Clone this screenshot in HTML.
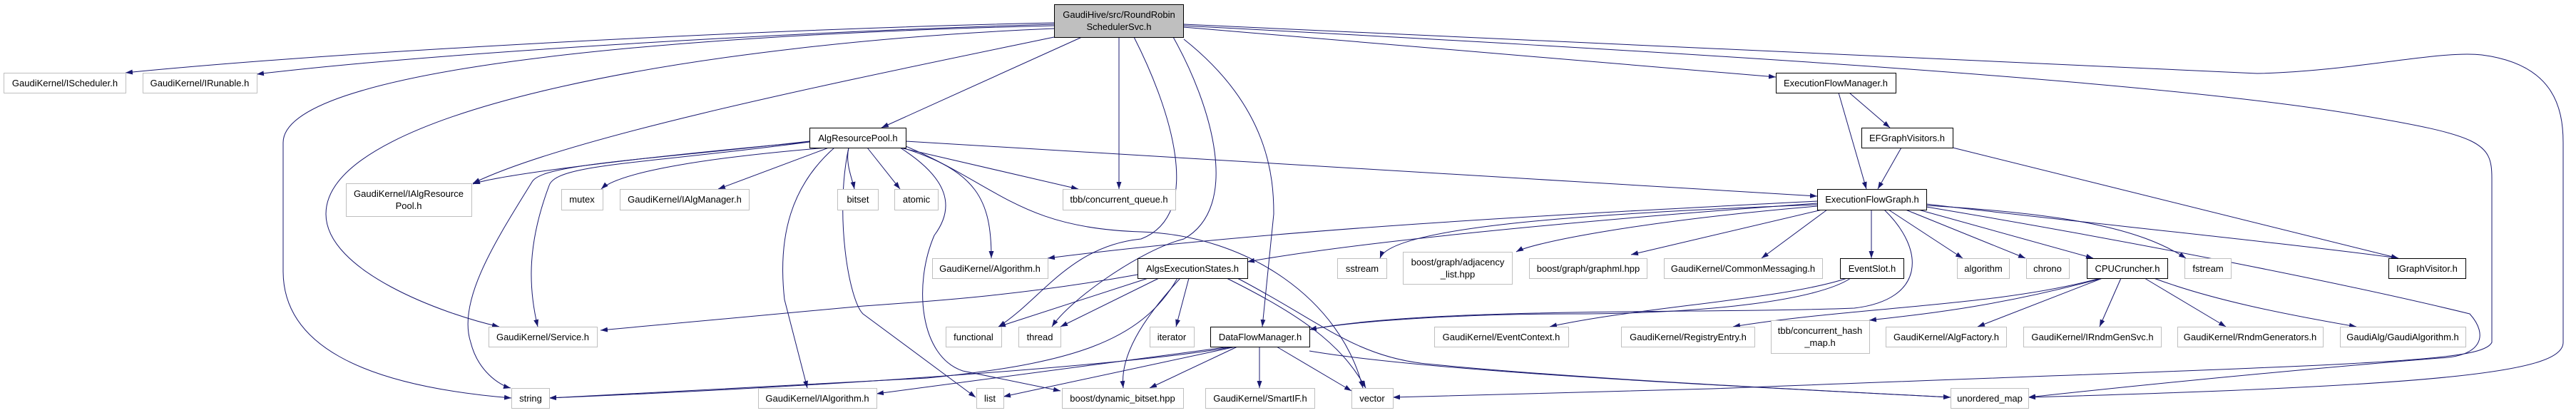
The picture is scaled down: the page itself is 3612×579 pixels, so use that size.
<!DOCTYPE html>
<html><head><meta charset="utf-8"><style>
html,body{margin:0;padding:0;background:#fff;}
svg{display:block;}
text{font-family:"Liberation Sans",sans-serif;font-size:13px;fill:#000;}
.g{fill:#fff;stroke:#bfbfbf;stroke-width:1;}
.b{fill:#fff;stroke:#000;stroke-width:1;}
.e{fill:none;stroke:#191970;stroke-width:1;}
</style></head><body>
<svg width="3612" height="579" viewBox="0 0 3612 579" xmlns="http://www.w3.org/2000/svg">
<defs><marker id="a" markerUnits="userSpaceOnUse" markerWidth="11" markerHeight="8" refX="10" refY="3.5" orient="auto"><path d="M0,0 L10,3.5 L0,7 z" fill="#191970"/></marker></defs>
<g class="e" marker-end="url(#a)">
<path d="M1478,32 C1100,40 500,70 176,102"/>
<path d="M1478,34 C1100,45 600,75 360,104"/>
<path d="M1478,36 C900,50 397,100 397,200 L397,380 C397,480 500,540 717,558"/>
<path d="M1478,40 C1000,60 457,150 457,300 C457,380 620,440 700,458"/>
<path d="M1478,52 C1200,110 800,190 663,257"/>
<path d="M1517,52 L1236,179"/>
<path d="M1569,52 L1569,265"/>
<path d="M1590,52 C1640,150 1690,300 1600,335 C1500,345 1460,420 1400,458"/>
<path d="M1645,52 C1700,150 1740,290 1660,335 C1600,350 1500,420 1475,458"/>
<path d="M1660,55 C1780,150 1786,250 1786,300 L1770,458"/>
<path d="M1659,38 L2490,108"/>
<path d="M1659,36 C2300,70 3000,110 3300,160 C3480,190 3494,200 3494,250 L3494,480 C3480,510 3300,510 2400,545 L1953,557"/>
<path d="M1659,34 C2400,70 2900,90 3165,103 C3300,100 3420,70 3480,77 C3580,90 3594,150 3594,200 L3594,480 C3594,520 3450,540 2844,557"/>
<path d="M1135,199 C900,220 700,245 663,258"/>
<path d="M1135,199 C900,230 780,230 770,260 C740,340 740,400 754,458"/>
<path d="M1135,198 C900,225 760,230 746,255 C700,330 640,420 660,480 C670,520 700,540 716,544"/>
<path d="M1160,207 C1000,220 870,240 843,265"/>
<path d="M1162,207 L1007,265"/>
<path d="M1170,207 C1110,260 1090,330 1100,420 L1132,544"/>
<path d="M1190,207 C1185,230 1195,250 1198,265"/>
<path d="M1190,207 C1170,300 1190,420 1210,440 L1368,557"/>
<path d="M1216,207 L1262,265"/>
<path d="M1262,207 L1512,265"/>
<path d="M1262,207 C1330,250 1340,290 1310,330 C1280,400 1290,500 1350,520 L1487,548"/>
<path d="M1265,207 C1370,240 1390,280 1390,362"/>
<path d="M1270,205 C1400,260 1430,320 1600,325 C1750,330 1880,420 1911,544"/>
<path d="M1270,198 L2548,275"/>
<path d="M1595,385 C1400,420 1250,425 1200,430 L842,463"/>
<path d="M1610,390 L1400,458"/>
<path d="M1625,390 L1487,458"/>
<path d="M1667,390 L1649,458"/>
<path d="M1651,390 C1600,480 1500,510 1300,530 L770,558"/>
<path d="M1655,390 C1600,450 1570,500 1575,544"/>
<path d="M1720,390 C1820,440 1880,480 1915,544"/>
<path d="M1735,390 C1850,450 1900,500 2000,510 C2200,530 2500,545 2735,557"/>
<path d="M1730,486 C1600,510 1200,540 770,558"/>
<path d="M1725,486 L1229,552"/>
<path d="M1733,486 L1407,556"/>
<path d="M1735,486 L1612,544"/>
<path d="M1766,486 L1766,544"/>
<path d="M1790,486 L1895,548"/>
<path d="M1836,492 C2000,520 2400,540 2735,557"/>
<path d="M2593,130 L2650,179"/>
<path d="M2578,130 L2617,265"/>
<path d="M2666,207 L2633,265"/>
<path d="M2738,207 L3363,362"/>
<path d="M2548,282 C2200,300 1800,320 1469,362"/>
<path d="M2548,285 C2200,310 1900,340 1749,367"/>
<path d="M2548,287 C2200,300 1950,320 1935,362"/>
<path d="M2548,289 C2300,310 2150,340 2126,353"/>
<path d="M2555,294 L2287,357"/>
<path d="M2562,294 L2470,362"/>
<path d="M2624,294 L2624,362"/>
<path d="M2648,294 L2752,362"/>
<path d="M2672,294 L2840,362"/>
<path d="M2690,294 L2935,362"/>
<path d="M2701,288 C2900,300 3000,320 3065,362"/>
<path d="M2701,286 C2900,310 3200,340 3363,362"/>
<path d="M2642,294 C2700,350 2700,420 2600,432 C2400,440 2000,430 1836,462"/>
<path d="M2701,290 C3000,340 3300,400 3463,440 C3490,470 3480,500 3420,502 C3200,520 3000,540 2844,557"/>
<path d="M2595,390 C2550,420 2400,440 2200,440 C2050,440 1900,450 1836,462"/>
<path d="M2590,390 C2500,420 2300,430 2173,458"/>
<path d="M2945,390 C2800,430 2600,430 2430,458"/>
<path d="M2948,390 C2800,430 2700,440 2621,449"/>
<path d="M2948,390 L2773,458"/>
<path d="M2974,390 L2944,458"/>
<path d="M3007,390 L3121,458"/>
<path d="M3020,390 C3100,420 3200,440 3304,458"/>
</g>
<g text-anchor="middle">
<rect x="1478.5" y="6.5" width="181" height="46" fill="#bfbfbf" stroke="#000"/>
<text x="1569" y="25">GaudiHive/src/RoundRobin</text><text x="1569" y="42">SchedulerSvc.h</text>

<rect class="g" x="5.5" y="102.5" width="171" height="28"/><text x="91" y="121">GaudiKernel/IScheduler.h</text>
<rect class="g" x="200.5" y="102.5" width="160" height="28"/><text x="280" y="121">GaudiKernel/IRunable.h</text>
<rect class="b" x="1135.5" y="179.5" width="135" height="28"/><text x="1203" y="198">AlgResourcePool.h</text>
<rect class="g" x="485.5" y="257.5" width="176" height="46"/><text x="573" y="276">GaudiKernel/IAlgResource</text><text x="573" y="293">Pool.h</text>
<rect class="g" x="787.5" y="265.5" width="58" height="29"/><text x="816" y="284">mutex</text>
<rect class="g" x="869.5" y="265.5" width="181" height="29"/><text x="960" y="284">GaudiKernel/IAlgManager.h</text>
<rect class="g" x="1174.5" y="265.5" width="57" height="29"/><text x="1203" y="284">bitset</text>
<rect class="g" x="1254.5" y="265.5" width="61" height="29"/><text x="1285" y="284">atomic</text>
<rect class="g" x="1490.5" y="265.5" width="158" height="29"/><text x="1569" y="284">tbb/concurrent_queue.h</text>
<rect class="g" x="685.5" y="458.5" width="152" height="28"/><text x="761" y="477">GaudiKernel/Service.h</text>
<rect class="g" x="717.5" y="544.5" width="53" height="28"/><text x="744" y="563">string</text>
<rect class="g" x="1063.5" y="544.5" width="166" height="28"/><text x="1146" y="563">GaudiKernel/IAlgorithm.h</text>
<rect class="g" x="1307.5" y="362.5" width="162" height="28"/><text x="1388" y="381">GaudiKernel/Algorithm.h</text>
<rect class="b" x="1595.5" y="362.5" width="154" height="28"/><text x="1672" y="381">AlgsExecutionStates.h</text>
<rect class="g" x="1875.5" y="362.5" width="69" height="28"/><text x="1910" y="381">sstream</text>
<rect class="g" x="1967.5" y="353.5" width="153" height="45"/><text x="2044" y="372">boost/graph/adjacency</text><text x="2044" y="389">_list.hpp</text>
<rect class="g" x="2144.5" y="362.5" width="165" height="28"/><text x="2227" y="381">boost/graph/graphml.hpp</text>
<rect class="g" x="2333.5" y="362.5" width="222" height="28"/><text x="2444" y="381">GaudiKernel/CommonMessaging.h</text>
<rect class="g" x="1326.5" y="458.5" width="78" height="28"/><text x="1365" y="477">functional</text>
<rect class="g" x="1428.5" y="458.5" width="59" height="28"/><text x="1458" y="477">thread</text>
<rect class="g" x="1612.5" y="458.5" width="62" height="28"/><text x="1643" y="477">iterator</text>
<rect class="b" x="1697.5" y="458.5" width="139" height="28"/><text x="1767" y="477">DataFlowManager.h</text>
<rect class="g" x="2011.5" y="458.5" width="188" height="28"/><text x="2105" y="477">GaudiKernel/EventContext.h</text>
<rect class="g" x="2273.5" y="458.5" width="187" height="28"/><text x="2367" y="477">GaudiKernel/RegistryEntry.h</text>
<rect class="g" x="1369.5" y="544.5" width="38" height="28"/><text x="1388" y="563">list</text>
<rect class="g" x="1489.5" y="544.5" width="170" height="28"/><text x="1574" y="563">boost/dynamic_bitset.hpp</text>
<rect class="g" x="1690.5" y="544.5" width="153" height="28"/><text x="1767" y="563">GaudiKernel/SmartIF.h</text>
<rect class="g" x="1895.5" y="544.5" width="58" height="28"/><text x="1924" y="563">vector</text>
<rect class="b" x="2490.5" y="102.5" width="168" height="28"/><text x="2574" y="121">ExecutionFlowManager.h</text>
<rect class="b" x="2610.5" y="179.5" width="128" height="28"/><text x="2674" y="198">EFGraphVisitors.h</text>
<rect class="b" x="2548.5" y="265.5" width="153" height="29"/><text x="2625" y="284">ExecutionFlowGraph.h</text>
<rect class="b" x="2580.5" y="362.5" width="89" height="28"/><text x="2625" y="381">EventSlot.h</text>
<rect class="g" x="2744.5" y="362.5" width="73" height="28"/><text x="2781" y="381">algorithm</text>
<rect class="g" x="2841.5" y="362.5" width="60" height="28"/><text x="2871" y="381">chrono</text>
<rect class="b" x="2926.5" y="362.5" width="113" height="28"/><text x="2983" y="381">CPUCruncher.h</text>
<rect class="g" x="3063.5" y="362.5" width="65" height="28"/><text x="3096" y="381">fstream</text>
<rect class="b" x="3349.5" y="362.5" width="108" height="28"/><text x="3403" y="381">IGraphVisitor.h</text>
<rect class="g" x="2483.5" y="449.5" width="138" height="46"/><text x="2552" y="468">tbb/concurrent_hash</text><text x="2552" y="485">_map.h</text>
<rect class="g" x="2644.5" y="458.5" width="169" height="28"/><text x="2729" y="477">GaudiKernel/AlgFactory.h</text>
<rect class="g" x="2837.5" y="458.5" width="193" height="28"/><text x="2934" y="477">GaudiKernel/IRndmGenSvc.h</text>
<rect class="g" x="3053.5" y="458.5" width="204" height="28"/><text x="3155" y="477">GaudiKernel/RndmGenerators.h</text>
<rect class="g" x="3281.5" y="458.5" width="176" height="28"/><text x="3369" y="477">GaudiAlg/GaudiAlgorithm.h</text>
<rect class="g" x="2735.5" y="544.5" width="109" height="28"/><text x="2790" y="563">unordered_map</text>
</g>
</svg>
</body></html>
